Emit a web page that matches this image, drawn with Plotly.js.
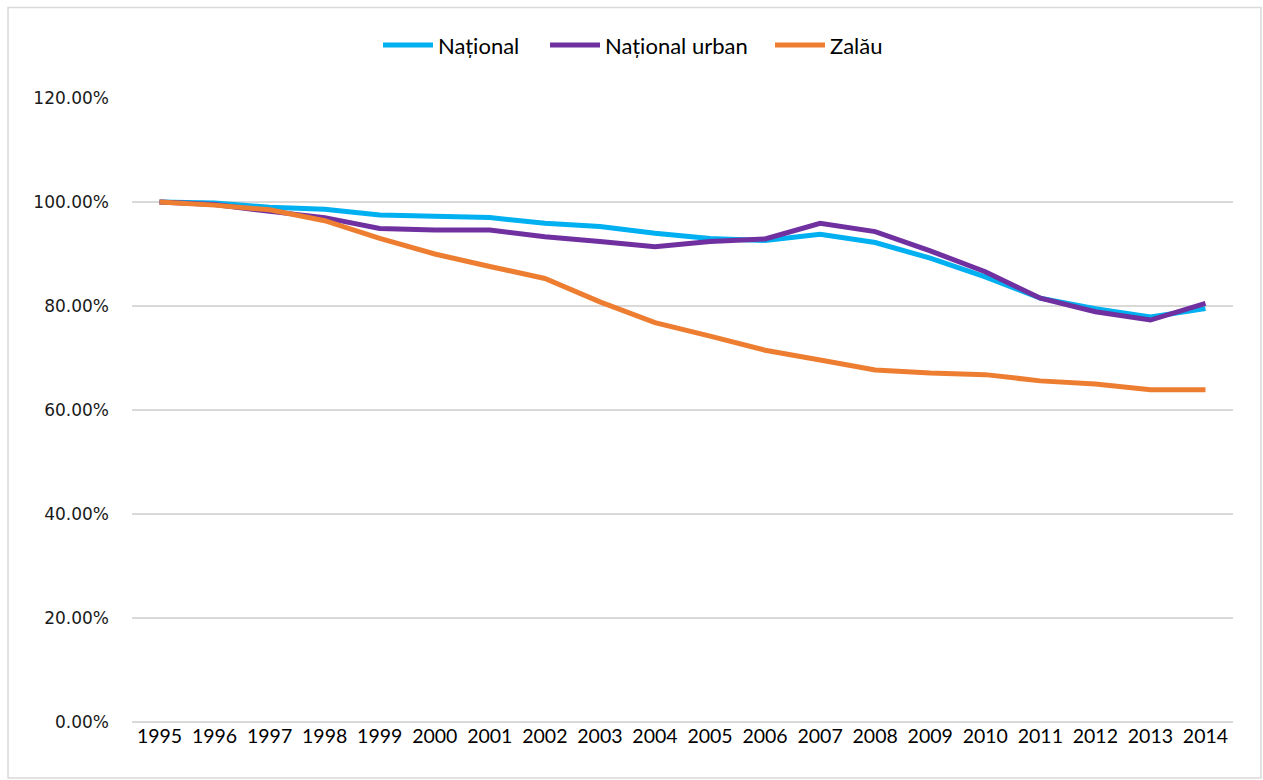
<!DOCTYPE html>
<html>
<head>
<meta charset="utf-8">
<script src="https://cdn.plot.ly/plotly-3.0.1.min.js"></script>
<style>html,body{margin:0;padding:0;background:#fff;} #chart{width:1263px;height:780px;}</style>
</head>
<body>
<div id="chart"></div>
<script>
const years = ["1995","1996","1997","1998","1999","2000","2001","2002","2003","2004","2005","2006","2007","2008","2009","2010","2011","2012","2013","2014"];
const national = [100, 99.8, 99.0, 98.6, 97.5, 97.3, 97.0, 95.9, 95.3, 94.0, 93.0, 92.6, 93.8, 92.2, 89.2, 85.6, 81.5, 79.5, 77.9, 79.5];
const nationalUrban = [100, 99.5, 98.2, 97.0, 94.9, 94.6, 94.6, 93.3, 92.4, 91.4, 92.4, 92.9, 95.9, 94.3, 90.6, 86.6, 81.5, 78.9, 77.3, 80.5];
const zalau = [100, 99.4, 98.5, 96.4, 93.0, 90.0, 87.6, 85.3, 80.8, 76.8, 74.2, 71.5, 69.6, 67.7, 67.1, 66.8, 65.6, 65.0, 63.9, 63.9];
const seriesNames = ["Național", "Național urban", "Zalău"];
const yTicks = [0, 20, 40, 60, 80, 100, 120];
const yTickLabels = ["0.00%", "20.00%", "40.00%", "60.00%", "80.00%", "100.00%", "120.00%"];

const colors = ["#00B0F0", "#7030A0", "#ED7D31"];
const legendIds = ["legend", "legend2", "legend3"];
const data = [national, nationalUrban, zalau].map((v, i) => ({
  type: "scatter", mode: "lines", x: years, y: v, name: seriesNames[i], legend: legendIds[i],
  line: {color: colors[i], width: 5}
}));

const legendPx = [378, 545, 770];
const mkLegend = (px) => ({orientation: "h", x: px / 1263, xref: "container", xanchor: "left", y: 0.942, yref: "container", yanchor: "middle",
  font: {family: "Lato, sans-serif", size: 22, color: "#000"}, itemwidth: 50, bgcolor: "rgba(0,0,0,0)"});

const layout = {
  width: 1263, height: 780,
  margin: {l: 132, r: 30, t: 98, b: 58},
  paper_bgcolor: "#fff", plot_bgcolor: "#fff",
  showlegend: true,
  legend: mkLegend(legendPx[0]), legend2: mkLegend(legendPx[1]), legend3: mkLegend(legendPx[2]),
  xaxis: {type: "category", range: [-0.5, 19.5], showgrid: false, zeroline: false, showline: false, ticks: "",
    tickfont: {family: "Lato, sans-serif", size: 19.5, color: "#000"}, fixedrange: true},
  yaxis: {range: [0, 120], tickvals: yTicks, ticktext: yTickLabels, showgrid: true, gridcolor: "#d9d9d9", gridwidth: 1.5,
    zeroline: true, zerolinecolor: "#d9d9d9", zerolinewidth: 1.5, showline: false, ticks: "",
    tickfont: {family: "DejaVu Sans, sans-serif", size: 17, color: "#1a1a1a"}, ticklabelstandoff: 22, fixedrange: true},
  shapes: [{type: "rect", xref: "paper", yref: "paper", x0: -0.1126, x1: 1.0254, y0: -0.0897, y1: 1.145,
    line: {color: "#d9d9d9", width: 1.5}, fillcolor: "rgba(0,0,0,0)"}]
};
Plotly.newPlot("chart", data, layout, {displayModeBar: false, staticPlot: true});
</script>
</body>
</html>
